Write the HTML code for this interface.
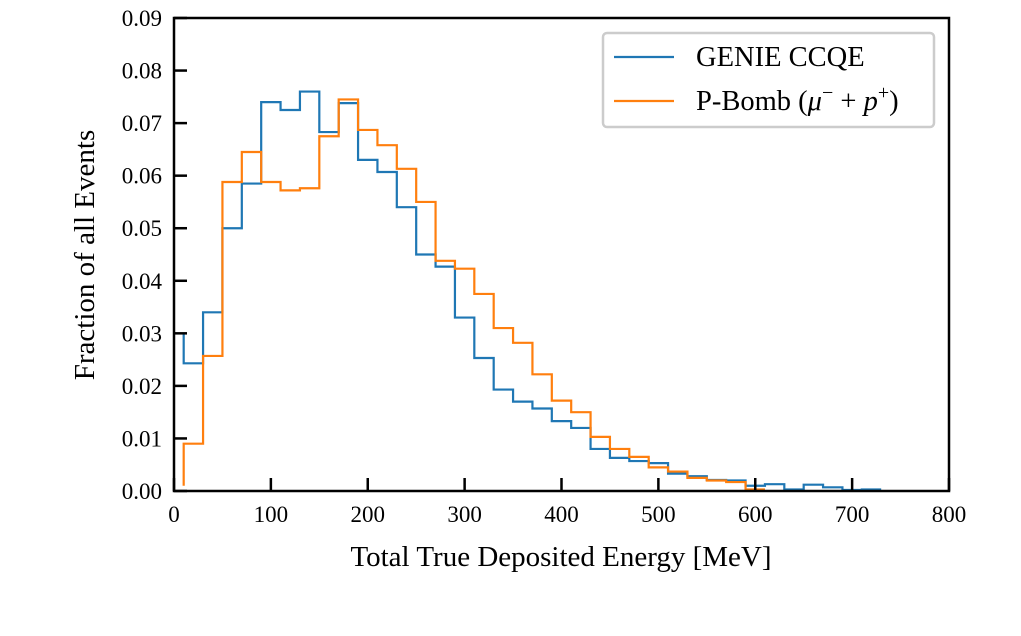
<!DOCTYPE html>
<html><head><meta charset="utf-8"><style>
body{margin:0;background:#fff}
svg text{font-family:"Liberation Serif",serif;fill:#000}
</style></head><body>
<svg id="chart" width="1021" height="631" xmlns="http://www.w3.org/2000/svg">
<rect width="1021" height="631" fill="#fff"/>
<g id="plot"></g>
<g id="axes"></g>
<text x="561" y="566" font-size="29" text-anchor="middle">Total True Deposited Energy [MeV]</text>
<text transform="translate(94,255) rotate(-90)" font-size="29" text-anchor="middle">Fraction of all Events</text>
<g>
<rect x="603" y="33" width="331" height="94" rx="4" fill="#fff" stroke="#ccc" stroke-width="2.5"/>
<line x1="614" y1="57" x2="674" y2="57" stroke="#1f77b4" stroke-width="2.2"/>
<text x="696" y="66" font-size="28.5">GENIE CCQE</text>
<line x1="614" y1="101" x2="674" y2="101" stroke="#ff7f0e" stroke-width="2.2"/>
<text x="696" y="110" font-size="28.5">P-Bomb (<tspan font-style="italic">μ</tspan><tspan dy="-11" font-size="20">−</tspan><tspan dy="11"> + </tspan><tspan font-style="italic">p</tspan><tspan dy="-11" font-size="20">+</tspan><tspan dy="11">)</tspan></text>
</g>
</svg>
<script>
const binEdgesStart = 10;
const binWidth = 20;
const genieValues = [0.0243,0.034,0.050,0.0585,0.074,0.0725,0.076,0.0683,0.0738,0.063,0.0607,0.054,0.045,0.0427,0.033,0.0253,0.0193,0.0170,0.0157,0.0133,0.012,0.0080,0.0063,0.0057,0.0053,0.0033,0.0028,0.0021,0.0020,0.0010,0.0013,0.0003,0.0012,0.0007,0.0002,0.0003];
const genieStart = 0.030;
const pbombValues = [0.009,0.0257,0.0588,0.0645,0.0588,0.0572,0.0576,0.0675,0.0745,0.0687,0.0658,0.0613,0.055,0.0438,0.0423,0.0375,0.031,0.0282,0.0222,0.0172,0.0150,0.0103,0.0080,0.0065,0.0045,0.0037,0.0025,0.0020,0.0017,0.0003];
const pbombStart = 0.001;
const xTicks = [0,100,200,300,400,500,600,700,800];
const yTicks = [0,0.01,0.02,0.03,0.04,0.05,0.06,0.07,0.08,0.09];

const X0=174,X1=949,Y0=491,Y1=18;
const sx=v=>X0+(v/800)*(X1-X0);
const sy=v=>Y0-(v/0.09)*(Y0-Y1);
const NS='http://www.w3.org/2000/svg';
const plot=document.getElementById('plot'), axes=document.getElementById('axes');

function stepPath(vals,start,color,name){
  let d='M'+sx(binEdgesStart)+','+sy(start);
  vals.forEach((v,i)=>{
    const a=binEdgesStart+i*binWidth,b=a+binWidth;
    d+=' L'+sx(a)+','+sy(v)+' L'+sx(b)+','+sy(v);
  });
  const p=document.createElementNS(NS,'path');
  p.setAttribute('d',d);p.setAttribute('fill','none');p.setAttribute('stroke',color);p.setAttribute('stroke-width','2.2');
  
  
  plot.appendChild(p);
}
stepPath(genieValues,genieStart,'#1f77b4','genie-ccqe-series');
stepPath(pbombValues,pbombStart,'#ff7f0e','pbomb-series');

const frame=document.createElementNS(NS,'rect');
frame.setAttribute('x',X0);frame.setAttribute('y',Y1);frame.setAttribute('width',X1-X0);frame.setAttribute('height',Y0-Y1);
frame.setAttribute('fill','none');frame.setAttribute('stroke','#000');frame.setAttribute('stroke-width','2.5');


axes.appendChild(frame);

xTicks.forEach(t=>{
  const l=document.createElementNS(NS,'line');
  l.setAttribute('x1',sx(t));l.setAttribute('x2',sx(t));l.setAttribute('y1',Y0);l.setAttribute('y2',Y0-13);
  l.setAttribute('stroke','#000');l.setAttribute('stroke-width','2.5');
  
  
  axes.appendChild(l);
  const tx=document.createElementNS(NS,'text');
  tx.setAttribute('x',sx(t));tx.setAttribute('y',Y0+31);tx.setAttribute('font-size','23');tx.setAttribute('text-anchor','middle');
  tx.textContent=t;
  
  
  axes.appendChild(tx);
});
yTicks.forEach(t=>{
  const l=document.createElementNS(NS,'line');
  l.setAttribute('x1',X0);l.setAttribute('x2',X0+13);l.setAttribute('y1',sy(t));l.setAttribute('y2',sy(t));
  l.setAttribute('stroke','#000');l.setAttribute('stroke-width','2.5');
  
  
  axes.appendChild(l);
  const tx=document.createElementNS(NS,'text');
  tx.setAttribute('x',X0-12);tx.setAttribute('y',sy(t)+8);tx.setAttribute('font-size','23');tx.setAttribute('text-anchor','end');
  tx.textContent=t.toFixed(2);
  
  
  axes.appendChild(tx);
});
</script>
</body></html>
